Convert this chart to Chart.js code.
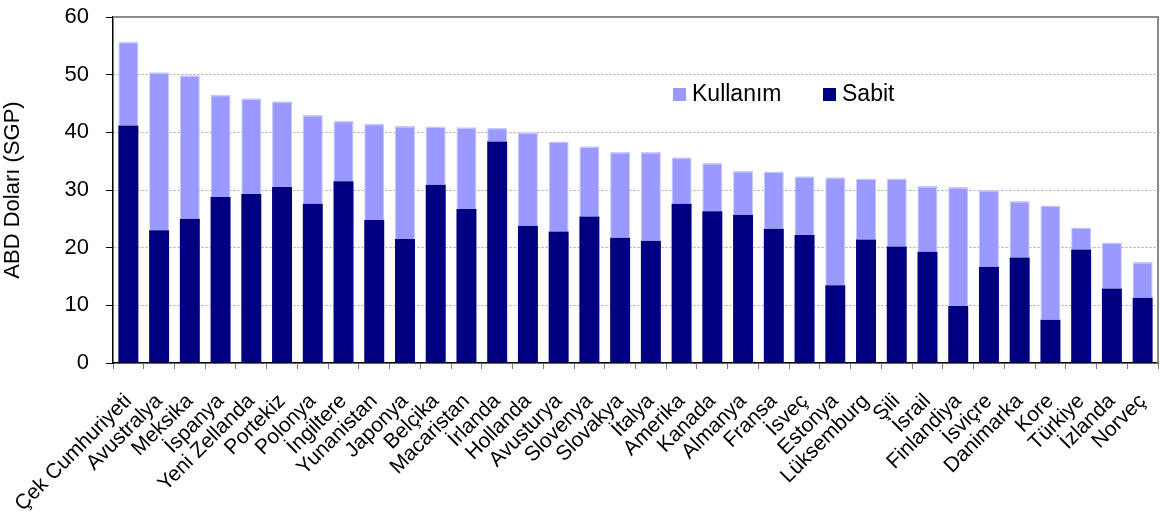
<!DOCTYPE html>
<html>
<head>
<meta charset="utf-8">
<script src="https://cdn.jsdelivr.net/npm/chart.js@4/dist/chart.umd.min.js"></script>
<style>
html,body{margin:0;padding:0;background:#fff;}
#wrap{width:1160px;height:512px;position:relative;}
</style>
</head>
<body>
<div id="wrap"><canvas id="c" width="1160" height="512"></canvas></div>
<script>
const categories = ["Çek Cumhuriyeti","Avustralya","Meksika","İspanya","Yeni Zellanda","Portekiz","Polonya","İngiltere","Yunanistan","Japonya","Belçika","Macaristan","İrlanda","Hollanda","Avusturya","Slovenya","Slovakya","İtalya","Amerika","Kanada","Almanya","Fransa","İsveç","Estonya","Lüksemburg","Şili","İsrail","Finlandiya","İsviçre","Danimarka","Kore","Türkiye","İzlanda","Norveç"];
const sabit = [41.2,23.0,25.0,28.8,29.3,30.5,27.6,31.5,24.8,21.5,30.9,26.7,38.4,23.8,22.8,25.4,21.7,21.2,27.6,26.3,25.7,23.3,22.2,13.5,21.4,20.2,19.3,9.9,16.7,18.3,7.5,19.7,12.9,11.3];
const total = [55.7,50.4,49.9,46.5,45.9,45.4,43.0,42.0,41.5,41.1,41.0,40.9,40.8,40.0,38.4,37.6,36.6,36.6,35.7,34.7,33.3,33.2,32.4,32.2,32.0,32.0,30.7,30.5,30.0,28.1,27.3,23.5,20.9,17.5];
const kullanim = total.map((t, i) => +(t - sabit[i]).toFixed(1));
const yTicks = [0,10,20,30,40,50,60];

const FONT = "'Liberation Sans', Arial, sans-serif";

const framePlugin = {
  id: 'frame',
  afterDatasetsDraw(chart) {
    const {ctx, chartArea: a} = chart;
    ctx.save();
    ctx.strokeStyle = '#8a8a8a';
    ctx.lineWidth = 2;
    ctx.beginPath();
    ctx.moveTo(a.left, a.top);
    ctx.lineTo(a.right, a.top);
    ctx.lineTo(a.right, a.bottom);
    ctx.stroke();
    ctx.restore();
  }
};

const legendPlugin = {
  id: 'insideLegend',
  afterDraw(chart) {
    const {ctx} = chart;
    const ds = chart.data.datasets;
    const items = [{d: ds[1], x: 673}, {d: ds[0], x: 823}];
    ctx.save();
    ctx.font = "23px " + FONT;
    ctx.textBaseline = 'middle';
    ctx.textAlign = 'left';
    items.forEach(it => {
      ctx.fillStyle = it.d.backgroundColor;
      ctx.fillRect(it.x, 88, 13, 13);
      ctx.fillStyle = '#000';
      ctx.fillText(it.d.label, it.x + 19, 95);
    });
    ctx.restore();
  }
};

new Chart(document.getElementById('c'), {
  type: 'bar',
  data: {
    labels: categories,
    datasets: [
      {label: 'Sabit', data: sabit, backgroundColor: '#000080', borderColor: '#2a2a90', borderWidth: 0},
      {label: 'Kullanım', data: kullanim, backgroundColor: '#9999ff', borderColor: '#c8c8ff', borderWidth: {top: 1.5, left: 1, right: 1, bottom: 0}}
    ]
  },
  options: {
    responsive: false,
    animation: false,
    devicePixelRatio: 1,
    layout: {padding: {top: 17, right: 2, left: 0, bottom: 0}},
    plugins: {legend: {display: false}, tooltip: {enabled: false}},
    datasets: {bar: {categoryPercentage: 1, barPercentage: 0.65}},
    scales: {
      x: {
        stacked: true,
        offset: true,
        grid: {display: true, drawOnChartArea: false, offset: true, color: '#808080', tickLength: 6, lineWidth: 1},
        border: {display: true, color: '#000', width: 1.5},
        ticks: {font: {family: FONT, size: 21}, color: '#000', minRotation: 45, maxRotation: 45, padding: 20, autoSkip: false},
        afterFit(scale) { scale.height = 149; scale.paddingLeft = 0; scale.paddingRight = 0; }
      },
      y: {
        stacked: true,
        min: 0, max: 60,
        afterBuildTicks(scale) { scale.ticks = yTicks.map(v => ({value: v})); },
        grid: {color: '#a8a8a8', tickColor: '#000', tickLength: 7, lineWidth: 1},
        border: {display: true, color: '#000', width: 1.5, dash: [2, 2]},
        ticks: {font: {family: FONT, size: 22}, color: '#000', padding: 17},
        title: {display: true, text: 'ABD Doları (SGP)', font: {family: FONT, size: 22}, color: '#000', padding: {top: 0, bottom: 9}},
        afterFit(scale) { scale.width = 113; scale.paddingTop = 0; scale.paddingBottom = 0; }
      }
    }
  },
  plugins: [framePlugin, legendPlugin]
});
</script>
</body>
</html>
